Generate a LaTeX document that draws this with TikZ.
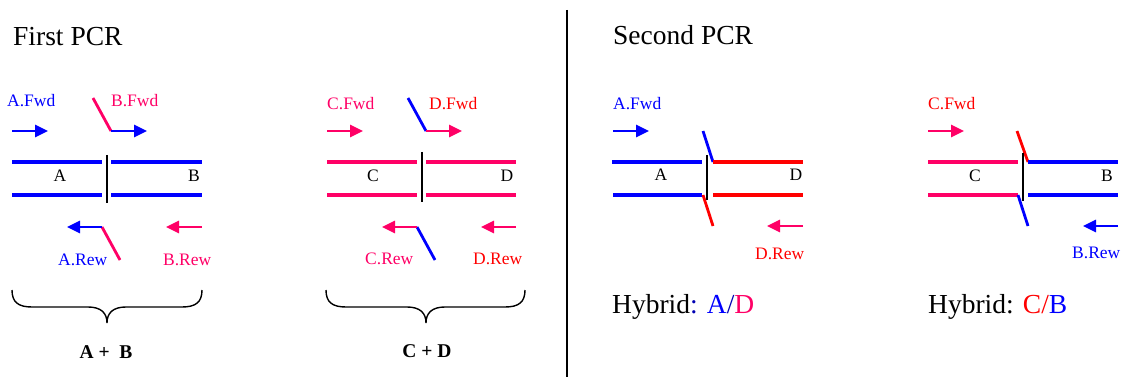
\documentclass[tikz,border=0pt]{standalone}
\usepackage{fontspec}
\setmainfont{Liberation Serif}
\usetikzlibrary{arrows.meta}
\definecolor{pblue}{RGB}{0,0,255}
\definecolor{ppink}{RGB}{255,0,102}
\definecolor{pred}{RGB}{255,0,0}
\begin{document}
\begin{tikzpicture}[x=1pt,y=-1pt,
  strand/.style={line width=3.6pt},
  primer/.style={line width=2.8pt},
  parr/.style={line width=2.8pt,-{Triangle[length=13pt,width=12pt]}},
  nick/.style={line width=2.2pt,black},
  lbl/.style={inner sep=0pt,font=\fontsize{17.5}{20}\selectfont},
  slbl/.style={inner sep=0pt,anchor=base,font=\fontsize{17.5}{20}\selectfont},
  title/.style={inner sep=0pt,anchor=base west,font=\fontsize{27.5}{30}\selectfont},
  sumlbl/.style={inner sep=0pt,anchor=base,font=\fontsize{19.5}{22}\selectfont\bfseries},
  brace/.style={line width=1.4pt,black}]
\useasboundingbox (0,0) rectangle (1127,377);

% divider
\draw[line width=1.4pt] (567,10) -- (567,377);

% titles
\node[title] (t1) at (13,46) {First PCR};
\node[title] (t2) at (613,45) {Second PCR};

% ===== First PCR: A + B =====
\node[lbl,anchor=base west,text=pblue] (afwd1) at (7,107) {A.Fwd};
\node[lbl,anchor=base west,text=ppink] (bfwd1) at (111,107) {B.Fwd};
\node[lbl,anchor=base west,text=pblue] (arew1) at (58,265) {A.Rew};
\node[lbl,anchor=base west,text=ppink] (brew1) at (163,265) {B.Rew};
\draw[parr,pblue] (12,131) -- (48,131);
\draw[primer,ppink] (93,98) -- (111,131);
\draw[parr,pblue] (111,131) -- (147,131);
\draw[strand,pblue] (12,162) -- (102,162);
\draw[strand,pblue] (12,195) -- (102,195);
\draw[strand,pblue] (111,162) -- (202,162);
\draw[strand,pblue] (111,195) -- (202,195);
\draw[nick] (107,155) -- (107,203);
\node[slbl] (la1) at (60,182) {A};
\node[slbl] (lb1) at (194,182) {B};
\draw[primer,ppink] (120,260) -- (102,227);
\draw[parr,pblue] (102,227) -- (67,227);
\draw[parr,ppink] (202,227) -- (166,227);

% ===== First PCR: C + D =====
\node[lbl,anchor=base west,text=ppink] (cfwd1) at (327,110) {C.Fwd};
\node[lbl,anchor=base west,text=pred] (dfwd1) at (429,110) {D.Fwd};
\node[lbl,anchor=base west,text=ppink] (crew1) at (365,264) {C.Rew};
\node[lbl,anchor=base west,text=pred] (drew1) at (473,264) {D.Rew};
\draw[parr,ppink] (327,131) -- (363,131);
\draw[primer,pblue] (408,98) -- (426,131);
\draw[parr,ppink] (426,131) -- (462,131);
\draw[strand,ppink] (327,162) -- (417,162);
\draw[strand,ppink] (327,195) -- (417,195);
\draw[strand,ppink] (426,162) -- (516,162);
\draw[strand,ppink] (426,195) -- (516,195);
\draw[nick] (422,152) -- (422,202);
\node[slbl] (lc1) at (373,182) {C};
\node[slbl] (ld1) at (507,182) {D};
\draw[primer,pblue] (435,260) -- (417,227);
\draw[parr,ppink] (417,227) -- (382,227);
\draw[parr,ppink] (516,227) -- (481,227);

% braces
\draw[brace] (12,290) .. controls (12,302) and (18,307) .. (32,307) -- (88,307)
  .. controls (101,307) and (107,313) .. (107,323)
  .. controls (107,313) and (113,307) .. (126,307) -- (182,307)
  .. controls (196,307) and (202,302) .. (202,290);
\draw[brace] (326,290) .. controls (326,302) and (332,307) .. (346,307) -- (407,307)
  .. controls (420,307) and (426,313) .. (426,323)
  .. controls (426,313) and (432,307) .. (445,307) -- (505,307)
  .. controls (519,307) and (525,302) .. (525,290);
\node[sumlbl] (sab) at (106,358) {A +\ \ B};
\node[sumlbl] (scd) at (427,357) {C + D};

% ===== Second PCR: A/D =====
\node[lbl,anchor=base west,text=pblue] (afwd2) at (613,110) {A.Fwd};
\node[lbl,anchor=base west,text=pred] (drew2) at (755,259) {D.Rew};
\draw[parr,pblue] (613,131) -- (649,131);
\draw[strand,pblue] (612,162) -- (702,162);
\draw[strand,pblue] (613,195) -- (702,195);
\draw[primer,pblue] (703,131) -- (713,162);
\draw[strand,pred] (713,162) -- (803,162);
\draw[strand,pred] (713,195) -- (803,195);
\draw[primer,pred] (703,195) -- (713,226);
\draw[nick] (707,155) -- (707,200);
\node[slbl] (la2) at (661,180) {A};
\node[slbl] (ld2) at (796,180) {D};
\draw[parr,ppink] (803,226) -- (767,226);
\node[title] (h1) at (612,313) {Hybrid{\color{pblue!70!black}:} {\color{pblue}A}{\color{pblue!70!black}/}{\color{ppink}D}};

% ===== Second PCR: C/B =====
\node[lbl,anchor=base west,text=pred] (cfwd2) at (928,110) {C.Fwd};
\node[lbl,anchor=base west,text=pblue] (brew2) at (1072,258) {B.Rew};
\draw[parr,ppink] (928,131) -- (964,131);
\draw[strand,ppink] (928,162) -- (1018,162);
\draw[strand,ppink] (928,195) -- (1018,195);
\draw[primer,pred] (1017,131) -- (1028,162);
\draw[strand,pblue] (1028,162) -- (1118,162);
\draw[strand,pblue] (1028,195) -- (1118,195);
\draw[primer,pblue] (1018,195) -- (1028,226);
\draw[nick] (1023,153) -- (1023,201);
\node[slbl] (lc2) at (975,181) {C};
\node[slbl] (lb2) at (1107,181) {B};
\draw[parr,pblue] (1118,226) -- (1083,226);
\node[title] (h2) at (928,313) {Hybrid: {\color{pred}C/}{\color{pblue}B}};
\end{tikzpicture}
\end{document}
